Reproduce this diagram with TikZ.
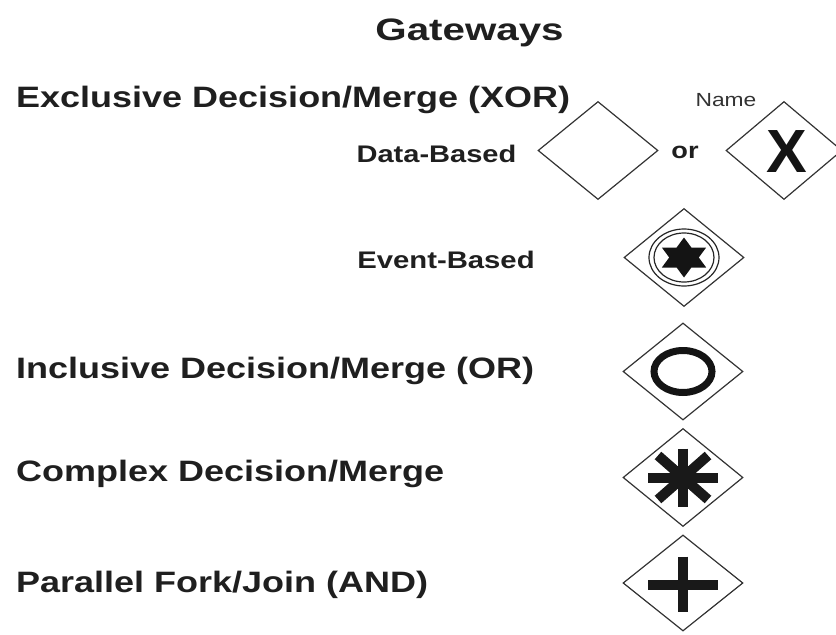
\documentclass[tikz,border=0pt]{standalone}
\usepackage{fontspec}
\usepackage{graphicx}
\setmainfont{Liberation Sans}
\usetikzlibrary{shapes.geometric}

% horizontally widened lettering
\newcommand{\wide}[2][1.22]{\scalebox{#1}[1]{#2}}

\tikzset{
  gate/.style={draw=black!80, line width=1.2pt, shape=diamond, inner sep=0pt,
               minimum width=120, minimum height=98},
  label/.style={anchor=base west, inner sep=0pt, text=black!88,
                font=\fontsize{29.5}{30}\selectfont\bfseries},
  sublabel/.style={anchor=base, inner sep=0pt, text=black!88,
                   font=\fontsize{24}{25}\selectfont\bfseries},
  glyphbar/.style={line width=10pt, black!90},
}

\begin{document}
\begin{tikzpicture}[x=1pt, y=-1pt]
  \useasboundingbox (0,0) rectangle (836,635);

  % heading
  \node[anchor=base, inner sep=0pt, text=black!88,
        font=\fontsize{31}{32}\selectfont\bfseries] (title) at (469.5,40) {\wide[1.3]{Gateways}};

  % category labels
  \node[label] (lxor) at (16,107.5) {\wide{Exclusive Decision/Merge (XOR)}};
  \node[label] (lor)  at (16,378)   {\wide{Inclusive Decision/Merge (OR)}};
  \node[label] (lcx)  at (16,481.5) {\wide{Complex Decision/Merge}};
  \node[label] (land) at (16,592)   {\wide{Parallel Fork/Join (AND)}};

  \node[sublabel] (ldata) at (436.5,162) {\wide[1.21]{Data-Based}};
  \node[sublabel] (levt)  at (446,268)   {\wide[1.22]{Event-Based}};
  \node[sublabel, font=\fontsize{23}{24}\selectfont\bfseries] (lor2) at (685,158) {\wide[1.18]{or}};
  \node[anchor=base, inner sep=0pt, text=black!80,
        font=\fontsize{19}{20}\selectfont] (lname) at (726,106.5) {\wide[1.2]{Name}};

  % gateway diamonds
  \node[gate] (gdata) at (598,150.5) {};
  \node[gate, minimum width=116] (gxor) at (784,150.5) {};
  \node[gate] (gevt)  at (684,257.5) {};
  \node[gate, minimum height=97] (gor)   at (683,371.5) {};
  \node[gate] (gcx)   at (683,477.5) {};
  \node[gate, minimum height=96] (gand)  at (683,583) {};

  % exclusive marker
  \node[anchor=base, inner sep=0pt, text=black!92,
        font=\fontsize{61}{62}\selectfont\bfseries] (xmark) at (787,172) {X};

  % event-based marker: double ring with six-pointed star
  \draw[black!85, line width=1.2pt] (gevt.center) ellipse [x radius=35, y radius=28.5];
  \draw[black!85, line width=1.2pt] (gevt.center) ellipse [x radius=30, y radius=24.5];
  \begin{scope}[shift={(gevt.center)}, xscale=1.28]
    \fill[black!92] (90:20)
      \foreach \k in {0,...,4} { -- (120+60*\k:11.55) -- (150+60*\k:20) }
      -- (60:11.55) -- cycle;
  \end{scope}

  % inclusive marker
  \draw[black!92, line width=7pt] (gor.center) ellipse [x radius=29, y radius=21];

  % complex marker
  \begin{scope}[shift={(gcx.center)}]
    \coordinate (cxw) at (-35,0);   \coordinate (cxe) at (35,0);
    \coordinate (cxn) at (0,-29);   \coordinate (cxs) at (0,29);
    \coordinate (cxnw) at (-25,-22); \coordinate (cxse) at (25,22);
    \coordinate (cxne) at (25,-22);  \coordinate (cxsw) at (-25,22);
  \end{scope}
  \draw[glyphbar] (cxw) -- (cxe);
  \draw[glyphbar] (cxn) -- (cxs);
  \draw[glyphbar] (cxnw) -- (cxse);
  \draw[glyphbar] (cxne) -- (cxsw);

  % parallel marker
  \begin{scope}[shift={(gand.center)}]
    \coordinate (pw) at (-35,1.5);  \coordinate (pe) at (35,1.5);
    \coordinate (pn) at (0,-26.5);  \coordinate (ps) at (0,29);
  \end{scope}
  \draw[glyphbar] (pw) -- (pe);
  \draw[glyphbar] (pn) -- (ps);
\end{tikzpicture}
\end{document}
